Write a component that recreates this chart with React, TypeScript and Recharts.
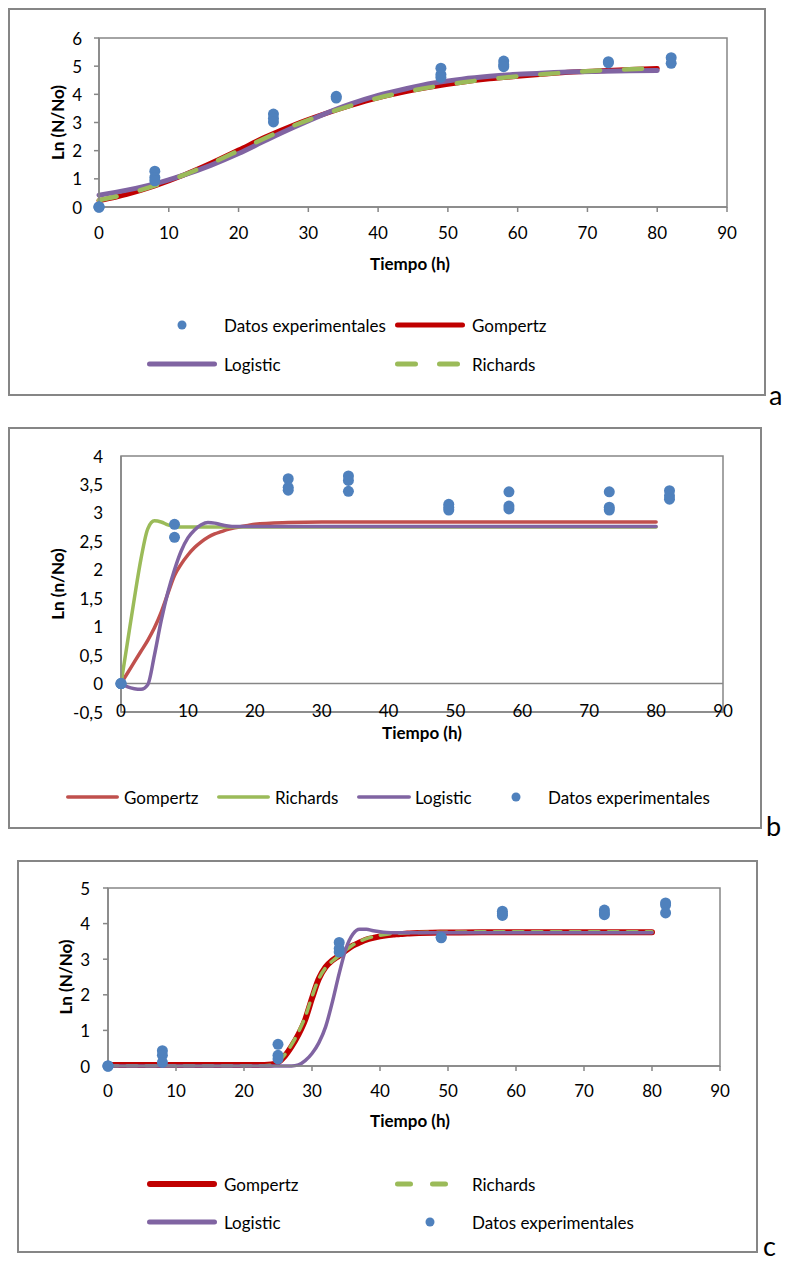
import React from 'react';
import { ComposedChart, Legend, Line, ReferenceArea, ReferenceLine, Scatter, XAxis, YAxis } from 'recharts';

const FONT = 'Lato, "Noto Sans", sans-serif';
const BLUE = '#4F81BD';
const PURPLE = '#8064A2';
const GREEN = '#9BBB59';
const DARK_RED = '#C00000';
const RED = '#C0504D';
const AXIS_GREY = '#868686';
const TEXT = '#000';

const xTicks = [0, 10, 20, 30, 40, 50, 60, 70, 80, 90];

// --- panel a ---
const yTicksA = [0, 1, 2, 3, 4, 5, 6];
const tA = [0, 4, 8, 12, 16, 20, 24, 28, 32, 36, 40, 44, 48, 52, 56, 60, 64, 68, 72, 76, 80];
const gompertzA = [0.22, 0.45, 0.75, 1.12, 1.55, 2.02, 2.5, 2.92, 3.28, 3.6, 3.88, 4.1, 4.28, 4.43, 4.55, 4.64, 4.72, 4.79, 4.84, 4.88, 4.92];
const logisticA = [0.42, 0.6, 0.82, 1.12, 1.48, 1.9, 2.38, 2.84, 3.27, 3.65, 3.96, 4.2, 4.4, 4.54, 4.64, 4.71, 4.76, 4.8, 4.82, 4.84, 4.85];
const richardsA = [0.24, 0.46, 0.76, 1.12, 1.54, 2.0, 2.47, 2.9, 3.27, 3.59, 3.87, 4.09, 4.27, 4.42, 4.54, 4.64, 4.72, 4.79, 4.85, 4.89, 4.93];
const expTimeA = [0, 0, 0, 8, 8, 8, 25, 25, 25, 34, 34, 49, 49, 49, 58, 58, 58, 73, 73, 82, 82];
const expA = [0, 0, 0, 1.27, 1.05, 0.93, 3.3, 3.15, 3.02, 3.93, 3.87, 4.93, 4.7, 4.6, 5.18, 5.05, 4.98, 5.16, 5.12, 5.3, 5.1];

// --- panel b ---
const yTicksB = [-0.5, 0, 0.5, 1, 1.5, 2, 2.5, 3, 3.5, 4];
const tB = [0, 1, 2, 3, 4, 5, 6, 7, 8, 9, 10, 11, 12, 13, 14, 15, 16, 17, 18, 19, 20, 25, 30, 35, 40, 45, 50, 55, 60, 65, 70, 75, 80];
const gompertzB = [0, 0.19, 0.38, 0.57, 0.76, 0.98, 1.25, 1.58, 1.9, 2.1, 2.26, 2.39, 2.49, 2.57, 2.63, 2.67, 2.71, 2.74, 2.76, 2.78, 2.8, 2.83, 2.84, 2.84, 2.84, 2.84, 2.84, 2.84, 2.84, 2.84, 2.84, 2.84, 2.84];
const richardsB = [0, 0.75, 1.5, 2.2, 2.72, 2.86, 2.84, 2.79, 2.76, 2.75, 2.75, 2.75, 2.75, 2.75, 2.75, 2.75, 2.75, 2.75, 2.75, 2.75, 2.75, 2.75, 2.75, 2.75, 2.75, 2.75, 2.75, 2.75, 2.75, 2.75, 2.75, 2.75, 2.75];
const logisticB = [0, -0.06, -0.09, -0.1, -0.02, 0.5, 1.1, 1.6, 2.0, 2.33, 2.56, 2.7, 2.79, 2.83, 2.82, 2.79, 2.77, 2.76, 2.76, 2.76, 2.76, 2.76, 2.76, 2.76, 2.76, 2.76, 2.76, 2.76, 2.76, 2.76, 2.76, 2.76, 2.76];
const expTimeB = [0, 0, 0, 8, 8, 25, 25, 25, 34, 34, 34, 49, 49, 49, 58, 58, 58, 73, 73, 73, 82, 82, 82];
const expB = [0, 0, 0, 2.8, 2.57, 3.6, 3.45, 3.4, 3.65, 3.57, 3.38, 3.15, 3.1, 3.05, 3.37, 3.12, 3.07, 3.37, 3.1, 3.05, 3.39, 3.3, 3.24];

// --- panel c ---
const yTicksC = [0, 1, 2, 3, 4, 5];
const tC = [0, 5, 10, 15, 20, 22, 23, 24, 25, 26, 27, 28, 29, 30, 31, 32, 33, 34, 35, 36, 37, 38, 39, 40, 41, 42, 43, 44, 45, 50, 55, 60, 65, 70, 75, 80];
const gompertzC = [0.03, 0.03, 0.03, 0.03, 0.03, 0.03, 0.03, 0.04, 0.1, 0.28, 0.55, 0.88, 1.3, 1.9, 2.45, 2.78, 2.97, 3.1, 3.25, 3.38, 3.47, 3.55, 3.6, 3.64, 3.67, 3.69, 3.71, 3.72, 3.73, 3.75, 3.76, 3.76, 3.76, 3.76, 3.76, 3.76];
const richardsC = [0.01, 0.01, 0.01, 0.01, 0.01, 0.01, 0.01, 0.03, 0.12, 0.32, 0.6, 0.95, 1.38, 1.95, 2.45, 2.76, 2.95, 3.1, 3.26, 3.4, 3.5, 3.58, 3.63, 3.67, 3.7, 3.72, 3.73, 3.74, 3.75, 3.76, 3.77, 3.77, 3.77, 3.77, 3.77, 3.77];
const logisticC = [0, 0, 0, 0, 0, 0, 0, 0, 0, 0, 0, 0.03, 0.15, 0.35, 0.65, 1.1, 1.8, 2.6, 3.3, 3.7, 3.84, 3.84, 3.8, 3.77, 3.75, 3.74, 3.74, 3.74, 3.74, 3.74, 3.74, 3.74, 3.74, 3.74, 3.74, 3.74];
const expTimeC = [0, 0, 0, 8, 8, 8, 25, 25, 25, 34, 34, 34, 49, 49, 58, 58, 58, 73, 73, 73, 82, 82, 82];
const expC = [0, 0, 0, 0.43, 0.3, 0.1, 0.61, 0.3, 0.2, 3.47, 3.3, 3.2, 3.62, 3.6, 4.35, 4.28, 4.23, 4.38, 4.3, 4.25, 4.58, 4.52, 4.3];

type Pt = { t: number; v: number };
const zip = (ts: number[], vs: number[]): Pt[] => ts.map((t, i) => ({ t, v: vs[i] }));

type Rect = { l: number; t: number; r: number; b: number };
type Curve = { name: string; data: Pt[]; color: string; width: number; dash?: string };
type LegendItem = { kind: 'line' | 'dash' | 'dot'; name: string; color: string; sw?: number; dash?: string; x: number; y: number; w: number; gap: number };

interface PanelProps {
  box: Rect;
  plot: Rect;
  yDomain: [number, number];
  yTicks: number[];
  yFmt?: (v: number) => string;
  yTitle: string;
  yTitleX: number;
  xTitleX: number;
  xTitleY: number;
  tickSize: number;
  yTickMargin: number;
  xLabelOffset: number;
  zeroLine?: boolean;
  curves: Curve[];
  points: Pt[];
  pointsOnTop: boolean;
  legend: LegendItem[];
}

function LegendIcon({ item }: { item: LegendItem }) {
  const h = 12;
  return (
    <svg width={item.w} height={h} style={{ position: 'absolute', left: item.x, top: item.y - h / 2 }}>
      {item.kind === 'dot' ? (
        <circle cx={item.w / 2} cy={h / 2} r={4.5} fill={item.color} />
      ) : (
        <line
          x1={item.sw! / 2}
          x2={item.w - item.sw! / 2}
          y1={h / 2}
          y2={h / 2}
          stroke={item.color}
          strokeWidth={item.sw}
          strokeLinecap="round"
          strokeDasharray={item.kind === 'dash' ? item.dash : undefined}
        />
      )}
    </svg>
  );
}

function Panel(p: PanelProps) {
  const W = p.box.r - p.box.l;
  const H = p.box.b - p.box.t;
  const xAxisH = 40;
  const margin = { top: p.plot.t - p.box.t, right: p.box.r - p.plot.r, left: 0, bottom: p.box.b - p.plot.b - xAxisH };
  const fmt = p.yFmt ?? ((v: number) => String(v));
  const cy = (p.plot.t + p.plot.b) / 2 - p.box.t;
  const ytx = p.yTitleX - p.box.l;

  const scatter = (
    <Scatter
      name="Datos experimentales"
      data={p.points}
      dataKey="v"
      fill={BLUE}
      isAnimationActive={false}
      shape={(s: any) => <circle cx={s.cx} cy={s.cy} r={5.5} fill={BLUE} />}
    />
  );

  return (
    <div style={{ position: 'absolute', left: p.box.l, top: p.box.t, width: W, height: H, fontFamily: FONT }}>
      <div style={{ position: 'absolute', inset: 0, border: `2px solid ${AXIS_GREY}`, boxSizing: 'border-box' }} />
      <ComposedChart width={W} height={H} margin={margin}>
        <XAxis
          type="number"
          dataKey="t"
          domain={[0, 90]}
          ticks={xTicks}
          height={xAxisH}
          axisLine={{ stroke: AXIS_GREY, strokeWidth: 1.5 }}
          tickLine={p.tickSize > 0 ? { stroke: AXIS_GREY, strokeWidth: 1.5 } : false}
          tickSize={p.tickSize}
          tickMargin={0}
          tick={(s: any) => (
            <text x={s.x} y={s.y - p.tickSize + p.xLabelOffset} textAnchor="middle" dominantBaseline="central" fontSize={17} fill={TEXT} fontFamily={FONT}>
              {s.payload.value}
            </text>
          )}
          label={{
            content: () => (
              <text x={p.xTitleX - p.box.l} y={p.xTitleY - p.box.t} textAnchor="middle" dominantBaseline="central" fontSize={17} fontWeight={700} fill={TEXT} fontFamily={FONT}>
                Tiempo (h)
              </text>
            ),
          }}
        />
        <YAxis
          type="number"
          dataKey="v"
          domain={p.yDomain}
          ticks={p.yTicks}
          width={p.plot.l - p.box.l}
          axisLine={{ stroke: AXIS_GREY, strokeWidth: 1.5 }}
          tickLine={p.tickSize > 0 ? { stroke: AXIS_GREY, strokeWidth: 1.5 } : false}
          tickSize={p.tickSize}
          tickMargin={p.yTickMargin}
          tick={(s: any) => (
            <text x={s.x} y={s.y} textAnchor="end" dominantBaseline="central" fontSize={17} fill={TEXT} fontFamily={FONT}>
              {fmt(s.payload.value)}
            </text>
          )}
          label={{
            content: () => (
              <text x={ytx} y={cy} transform={`rotate(-90 ${ytx} ${cy})`} textAnchor="middle" dominantBaseline="central" fontSize={17} fontWeight={700} fill={TEXT} fontFamily={FONT}>
                {p.yTitle}
              </text>
            ),
          }}
        />
        <ReferenceArea x1={0} x2={90} y1={p.yDomain[0]} y2={p.yDomain[1]} fill="none" fillOpacity={0} stroke={AXIS_GREY} strokeWidth={1.5} />
        {p.zeroLine && <ReferenceLine y={0} stroke={AXIS_GREY} strokeWidth={1.5} />}
        {!p.pointsOnTop && scatter}
        {p.curves.map((c) => (
          <Line
            key={c.name}
            name={c.name}
            data={c.data}
            dataKey="v"
            type="monotone"
            stroke={c.color}
            strokeWidth={c.width}
            strokeDasharray={c.dash}
            strokeLinecap="round"
            dot={false}
            activeDot={false}
            isAnimationActive={false}
          />
        ))}
        {p.pointsOnTop && scatter}
        <Legend
          layout="horizontal"
          verticalAlign="middle"
          align="center"
          wrapperStyle={{ position: 'absolute', left: 0, top: 0, width: W, height: H, pointerEvents: 'none' }}
          content={() => (
            <div style={{ position: 'relative', width: W, height: H, fontFamily: FONT }}>
              {p.legend.map((it) => (
                <React.Fragment key={it.name}>
                  <LegendIcon item={{ ...it, x: it.x - p.box.l, y: it.y - p.box.t }} />
                  <span
                    style={{
                      position: 'absolute',
                      left: it.x - p.box.l + it.w + it.gap,
                      top: it.y - p.box.t,
                      transform: 'translateY(-50%)',
                      fontSize: 17,
                      lineHeight: 1,
                      whiteSpace: 'nowrap',
                      color: TEXT,
                    }}
                  >
                    {it.name}
                  </span>
                </React.Fragment>
              ))}
            </div>
          )}
        />
      </ComposedChart>
    </div>
  );
}

const letterStyle = (left: number, top: number): React.CSSProperties => ({
  position: 'absolute',
  left,
  top,
  fontFamily: FONT,
  fontSize: 27,
  lineHeight: 1,
  color: TEXT,
});

export default function App() {
  return (
    <div style={{ position: 'absolute', left: 0, top: 0, width: 785, height: 1262, background: '#fff' }}>
      <Panel
        box={{ l: 8, t: 8, r: 766, b: 396 }}
        plot={{ l: 99, t: 38, r: 727, b: 207 }}
        yDomain={[0, 6]}
        yTicks={yTicksA}
        yTitle="Ln (N/No)"
        yTitleX={57}
        xTitleX={410}
        xTitleY={263}
        tickSize={5}
        yTickMargin={12}
        xLabelOffset={25}
        curves={[
          { name: 'Gompertz', data: zip(tA, gompertzA), color: DARK_RED, width: 5 },
          { name: 'Logistic', data: zip(tA, logisticA), color: PURPLE, width: 5 },
          { name: 'Richards', data: zip(tA, richardsA), color: GREEN, width: 4.5, dash: '18 24' },
        ]}
        points={zip(expTimeA, expA)}
        pointsOnTop={false}
        legend={[
          { kind: 'dot', name: 'Datos experimentales', color: BLUE, x: 147, y: 325, w: 70, gap: 7 },
          { kind: 'line', name: 'Gompertz', color: DARK_RED, sw: 5, x: 395, y: 325, w: 70, gap: 7 },
          { kind: 'line', name: 'Logistic', color: PURPLE, sw: 5, x: 147, y: 364, w: 70, gap: 7 },
          { kind: 'dash', name: 'Richards', color: GREEN, sw: 5, dash: '18 24', x: 395, y: 364, w: 70, gap: 7 },
        ]}
      />
      <div style={letterStyle(769, 381)}>a</div>

      <Panel
        box={{ l: 8, t: 427, r: 762, b: 829 }}
        plot={{ l: 121, t: 456, r: 723, b: 712 }}
        yDomain={[-0.5, 4]}
        yTicks={yTicksB}
        yFmt={(v) => String(v).replace('.', ',')}
        yTitle="Ln (n/No)"
        yTitleX={57}
        xTitleX={422}
        xTitleY={732}
        tickSize={0}
        yTickMargin={18}
        xLabelOffset={-2}
        zeroLine
        curves={[
          { name: 'Gompertz', data: zip(tB, gompertzB), color: RED, width: 3.5 },
          { name: 'Richards', data: zip(tB, richardsB), color: GREEN, width: 3.5 },
          { name: 'Logistic', data: zip(tB, logisticB), color: PURPLE, width: 3.5 },
        ]}
        points={zip(expTimeB, expB)}
        pointsOnTop
        legend={[
          { kind: 'line', name: 'Gompertz', color: RED, sw: 3.5, x: 66, y: 797, w: 53, gap: 5 },
          { kind: 'line', name: 'Richards', color: GREEN, sw: 3.5, x: 217, y: 797, w: 53, gap: 5 },
          { kind: 'line', name: 'Logistic', color: PURPLE, sw: 3.5, x: 357, y: 797, w: 54, gap: 4 },
          { kind: 'dot', name: 'Datos experimentales', color: BLUE, x: 489, y: 797, w: 54, gap: 5 },
        ]}
      />
      <div style={letterStyle(766, 812)}>b</div>

      <Panel
        box={{ l: 17, t: 860, r: 758, b: 1253 }}
        plot={{ l: 108, t: 888, r: 720, b: 1066 }}
        yDomain={[0, 5]}
        yTicks={yTicksC}
        yTitle="Ln (N/No)"
        yTitleX={65}
        xTitleX={410}
        xTitleY={1120}
        tickSize={5}
        yTickMargin={13}
        xLabelOffset={24}
        curves={[
          { name: 'Gompertz', data: zip(tC, gompertzC), color: DARK_RED, width: 6 },
          { name: 'Richards', data: zip(tC, richardsC), color: GREEN, width: 3.5, dash: '10 9' },
          { name: 'Logistic', data: zip(tC, logisticC), color: PURPLE, width: 3.5 },
        ]}
        points={zip(expTimeC, expC)}
        pointsOnTop
        legend={[
          { kind: 'line', name: 'Gompertz', color: DARK_RED, sw: 6, x: 147, y: 1184, w: 70, gap: 7 },
          { kind: 'dash', name: 'Richards', color: GREEN, sw: 5, dash: '13 22', x: 395, y: 1184, w: 53, gap: 24 },
          { kind: 'line', name: 'Logistic', color: PURPLE, sw: 5, x: 147, y: 1222, w: 70, gap: 7 },
          { kind: 'dot', name: 'Datos experimentales', color: BLUE, x: 395, y: 1222, w: 70, gap: 7 },
        ]}
      />
      <div style={letterStyle(763, 1232)}>c</div>
    </div>
  );
}
